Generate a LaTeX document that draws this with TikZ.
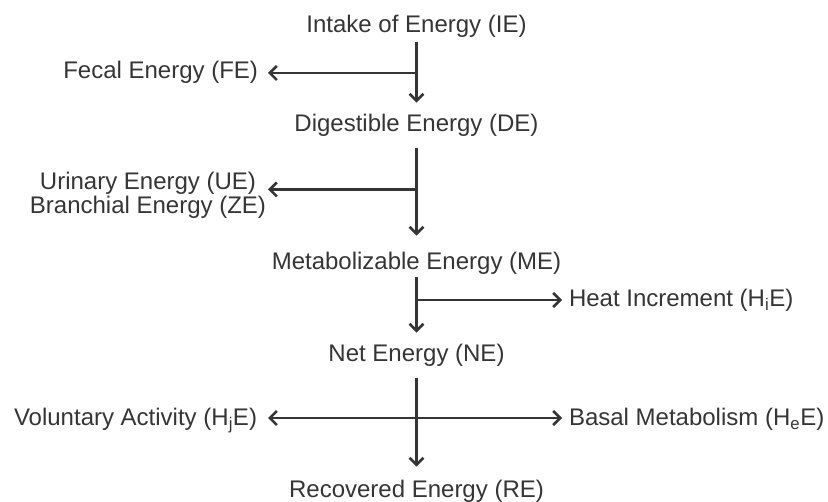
\documentclass[tikz,border=0pt]{standalone}
\usepackage{fontspec}
\setmainfont{Liberation Sans}
\usetikzlibrary{arrows.meta}
\definecolor{ink}{HTML}{353535}
\tikzset{
  lbl/.style={inner sep=0pt, outer sep=0pt, text=ink, font=\fontsize{24}{24}\selectfont},
  barb/.style={Straight Barb[length=7pt,width=14pt,line width=2.6pt]},
  flow/.style={draw=ink, line width=2.3pt, -{Straight Barb[length=7pt,width=14pt,line width=2.6pt]}},
  biflow/.style={draw=ink, line width=2.3pt, {Straight Barb[length=7pt,width=14pt,line width=2.6pt]}-{Straight Barb[length=7pt,width=14pt,line width=2.6pt]}}
}
\begin{document}
\begin{tikzpicture}[x=1pt,y=-1pt]
\useasboundingbox (0,0) rectangle (828,502);
% main column
\node[lbl, anchor=base] (IE) at (416.5,33) {Intake of Energy (IE)};
\node[lbl, anchor=base] (DE) at (416.5,132) {Digestible Energy (DE)};
\node[lbl, anchor=base] (ME) at (416.5,270) {Metabolizable Energy (ME)};
\node[lbl, anchor=base] (NE) at (416.5,362) {Net Energy (NE)};
\node[lbl, anchor=base] (RE) at (416.5,498) {Recovered Energy (RE)};
% side outputs
\node[lbl, anchor=base east] (FE) at (258,79) {Fecal Energy (FE)};
\node[lbl, anchor=east, align=center] (UZ) at (266,195) {Urinary Energy (UE)\\Branchial Energy (ZE)};
\node[lbl, anchor=base west] (HI) at (569,307) {Heat Increment (H\textsubscript{i}E)};
\node[lbl, anchor=base east] (VA) at (257,426) {Voluntary Activity (H\textsubscript{j}E)};
\node[lbl, anchor=base west] (BM) at (569,426) {Basal Metabolism (H\textsubscript{e}E)};
% branch points
\coordinate (b1) at (IE.south |- 0,73);
\coordinate (b2) at (IE.south |- 0,189.5);
\coordinate (b3) at (IE.south |- 0,300);
\coordinate (b4) at (IE.south |- 0,418);
% vertical flow
\draw[flow, shorten <=4pt, shorten >=12pt] (IE.south) -- (DE.north);
\draw[flow, shorten <=11pt, shorten >=17pt] (DE.south) -- (ME.north);
\draw[flow, shorten <=2pt, shorten >=12pt] (ME.south) -- (NE.north);
\draw[flow, shorten <=11pt, shorten >=14pt] (NE.south) -- (RE.north);
% branches
\draw[flow, shorten >=10pt] (b1) -- (b1 -| FE.east);
\draw[flow, shorten >=2pt] (b2) -- (b2 -| UZ.east);
\draw[flow, shorten >=7pt] (b3) -- (b3 -| HI.west);
\draw[biflow, shorten <=11pt, shorten >=7pt] (b4 -| VA.east) -- (b4 -| BM.west);
\end{tikzpicture}
\end{document}
